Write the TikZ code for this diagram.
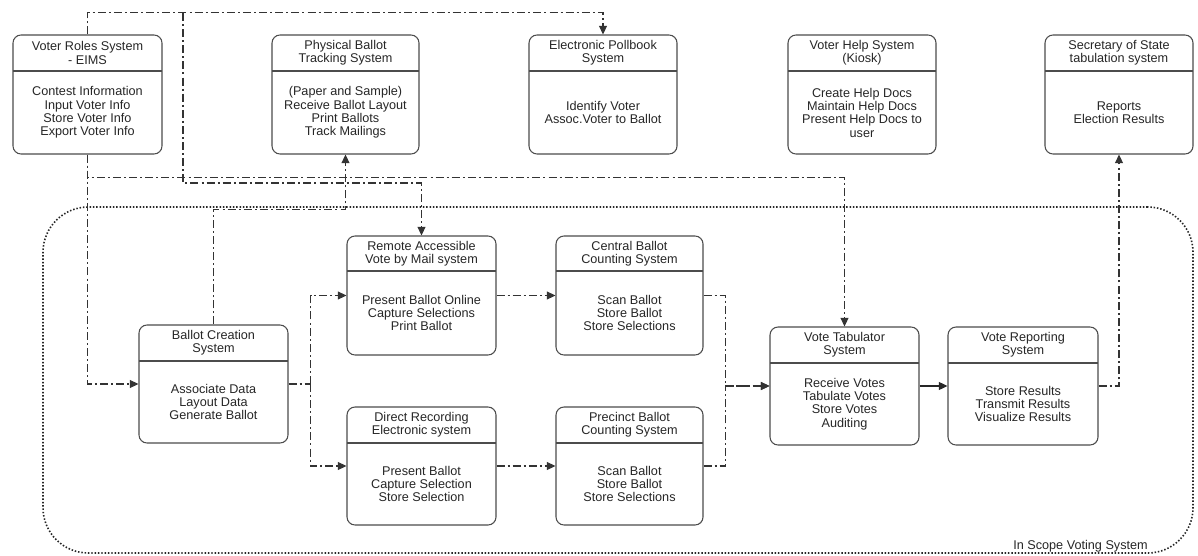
\documentclass[tikz,border=0pt]{standalone}
\usepackage{fontspec}
\setmainfont{Liberation Sans}
\usetikzlibrary{arrows.meta,fit}
\tikzset{
 sysbox/.style={draw=black!70, line width=0.8pt, rounded corners=6pt, inner sep=0pt},
 divline/.style={draw=black!70, line width=0.8pt},
 txt/.style={align=center, font=\fontsize{9.5}{10}\selectfont, text=black!85, inner sep=0pt},
 flowplain/.style={draw=black!80, line width=0.8pt, dash pattern=on 6pt off 2.3pt on 1.5pt off 2.3pt},
 flow/.style={flowplain, -{Triangle[length=6.5pt,width=6pt]}},
 solidflow/.style={draw=black!85, line width=1pt, -{Triangle[length=6.5pt,width=6pt]}},
 scopebox/.style={draw=black!85, line width=1.2pt, dash pattern=on 1.1pt off 1.4pt, rounded corners=34pt, inner sep=0pt},
}
\newcommand\sysnode[8]{%
 \node[sysbox, fit={(#2,#3) (#4,#5)}] (#1) {};
 \draw[divline] (#2,#6) -- (#4,#6);
 \node[txt] (#1-t) at ({(#2+#4)/2},{(#3+#6)/2}) {#7};
 \node[txt] (#1-b) at ({(#2+#4)/2},{(#6+#5)/2}) {#8};
}
\begin{document}
\begin{tikzpicture}[x=0.75pt,y=-0.75pt]
\useasboundingbox (0,0) rectangle (1198,556);
% scope boundary
\node[scopebox, fit={(43,207) (1193,553)}] (scope) {};
\node[txt, anchor=base east] (scopelbl) at (1148,549) {In Scope Voting System};
% top row
\sysnode{vr}{13}{35}{162}{154}{71}{Voter Roles System\\- EIMS}{Contest Information\\Input Voter Info\\Store Voter Info\\Export Voter Info}
\sysnode{pb}{272}{35}{419}{154}{71}{Physical Ballot\\Tracking System}{(Paper and Sample)\\Receive Ballot Layout\\Print Ballots\\Track Mailings}
\sysnode{ep}{529}{35}{677}{154}{71}{Electronic Pollbook\\System}{Identify Voter\\Assoc.Voter to Ballot}
\sysnode{vh}{788}{35}{936}{154}{71}{Voter Help System\\(Kiosk)}{Create Help Docs\\Maintain Help Docs\\Present Help Docs to\\user}
\sysnode{ss}{1045}{35}{1193}{154}{71}{Secretary of State\\tabulation system}{Reports\\Election Results}
% inner
\sysnode{bc}{139}{325}{288}{443}{361}{Ballot Creation\\System}{Associate Data\\Layout Data\\Generate Ballot}
\sysnode{rm}{347}{236}{496}{355}{271}{Remote Accessible\\Vote by Mail system}{Present Ballot Online\\Capture Selections\\Print Ballot}
\sysnode{cb}{556}{236}{703}{355}{271}{Central Ballot\\Counting System}{Scan Ballot\\Store Ballot\\Store Selections}
\sysnode{dr}{347}{407}{496}{525}{443}{Direct Recording\\Electronic system}{Present Ballot\\Capture Selection\\Store Selection}
\sysnode{pc}{556}{407}{703}{525}{443}{Precinct Ballot\\Counting System}{Scan Ballot\\Store Ballot\\Store Selections}
\sysnode{vt}{770}{327}{919}{445}{363}{Vote Tabulator\\System}{Receive Votes\\Tabulate Votes\\Store Votes\\Auditing}
\sysnode{vp}{948}{327}{1098}{445}{363}{Vote Reporting\\System}{Store Results\\Transmit Results\\Visualize Results}
% connectors
\draw[flow] (vr.north) -- ++(0,-22) -| (ep.north);
\coordinate (j1) at (183,13);
\draw[flow] (j1) -- ++(0,170) -| (rm.north);
\draw[flow] (vr.south) -- ++(0,23) -| (vt.north);
\draw[flow] (vr.south) |- (bc.west);
\draw[flow] (bc.north) -- ++(0,-115) -| (pb.south);
\draw[flowplain] (bc.east) -- ++(22,0) coordinate (f1);
\draw[flow] (f1) |- (rm.west);
\draw[flow] (f1) |- (dr.west);
\draw[flow] (rm.east) -- (cb.west);
\draw[flow] (dr.east) -- (pc.west);
\draw[flow] (cb.east) -- ++(22,0) |- (vt.west);
\draw[flow] (pc.east) -- ++(22,0) |- (vt.west);
\draw[solidflow] (vt.east) -- (vp.west);
\draw[flow] (vp.east) -| (ss.south);
\end{tikzpicture}
\end{document}
